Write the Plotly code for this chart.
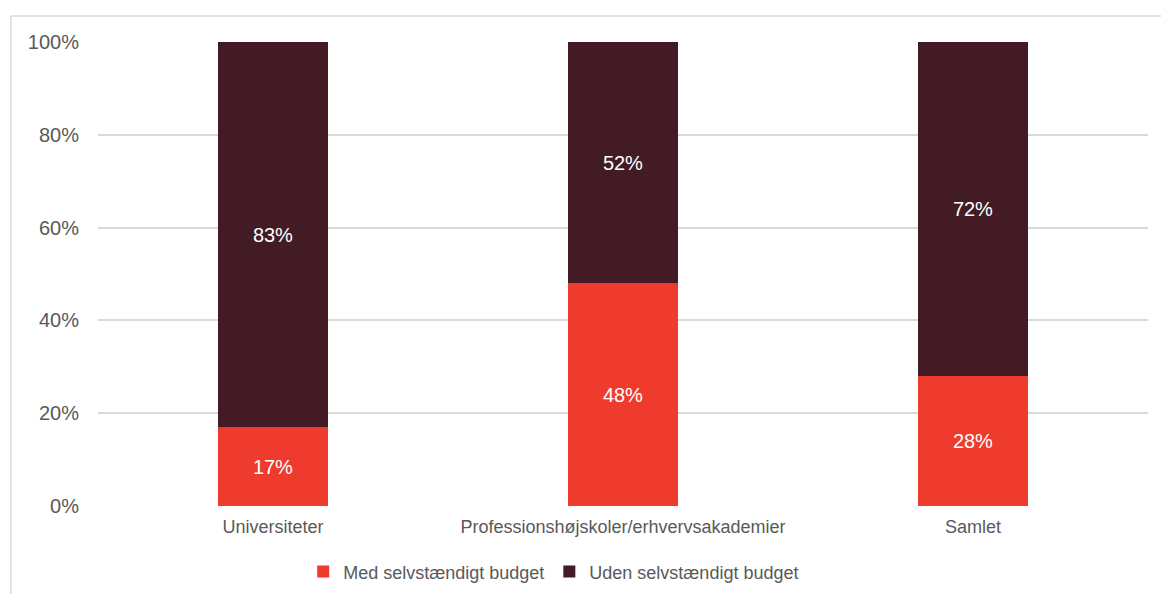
import plotly.graph_objects as go

# Share of institutions with / without their own budget (percent)
categories = ["Universiteter", "Professionshøjskoler/erhvervsakademier", "Samlet"]
med_budget = [17, 48, 28]
uden_budget = [83, 52, 72]
y_ticks = [0, 20, 40, 60, 80, 100]
y_tick_labels = ["0%", "20%", "40%", "60%", "80%", "100%"]

RED = "#EE3B2E"
DARK = "#431B25"
GREY_TEXT = "#595959"
GRID = "#D9D9D9"
FONT = "Liberation Sans, Arial, sans-serif"

fig = go.Figure()
fig.add_trace(go.Bar(
    name="Med selvstændigt budget",
    x=categories, y=med_budget,
    marker=dict(color=RED, line=dict(width=0)),
    texttemplate="%{y:.0f}%", textposition="inside", insidetextanchor="middle",
    textfont=dict(color="white", size=20, family=FONT),
))
fig.add_trace(go.Bar(
    name="Uden selvstændigt budget",
    x=categories, y=uden_budget,
    marker=dict(color=DARK, line=dict(width=0)),
    texttemplate="%{y:.0f}%", textposition="inside", insidetextanchor="middle",
    textfont=dict(color="white", size=20, family=FONT),
))

fig.update_layout(
    width=1161, height=594,
    barmode="stack",
    bargap=0.686,
    plot_bgcolor="white", paper_bgcolor="white",
    margin=dict(l=98, r=13, t=42, b=88, autoexpand=False),
    font=dict(family=FONT, color=GREY_TEXT),
    showlegend=True,
    legend=dict(
        orientation="h", traceorder="normal",
        x=0.434, xanchor="center", y=-0.142, yanchor="middle",
        font=dict(size=18, color=GREY_TEXT, family=FONT),
        itemwidth=30,
    ),
)
fig.update_xaxes(
    showgrid=False, showline=False, zeroline=False,
    tickfont=dict(size=18, color=GREY_TEXT),
    ticks="", ticklabelstandoff=8, automargin=False,
)
fig.update_yaxes(
    range=[0, 100], tickvals=y_ticks, ticktext=y_tick_labels,
    showgrid=True, gridcolor=GRID, gridwidth=1.5,
    zeroline=False, showline=False,
    tickfont=dict(size=20, color=GREY_TEXT),
    ticks="", ticklabelstandoff=18, automargin=False,
)

# Thin frame around the chart (left and top edges)
frame = dict(color=GRID, width=1.5)
fig.add_shape(type="line", xref="paper", yref="paper",
              x0=-0.0829, x1=-0.0829, y0=1.056, y1=-0.25, line=frame, layer="below")
fig.add_shape(type="line", xref="paper", yref="paper",
              x0=-0.0829, x1=1.05, y0=1.056, y1=1.056, line=frame, layer="below")

fig.write_html("out.html")
